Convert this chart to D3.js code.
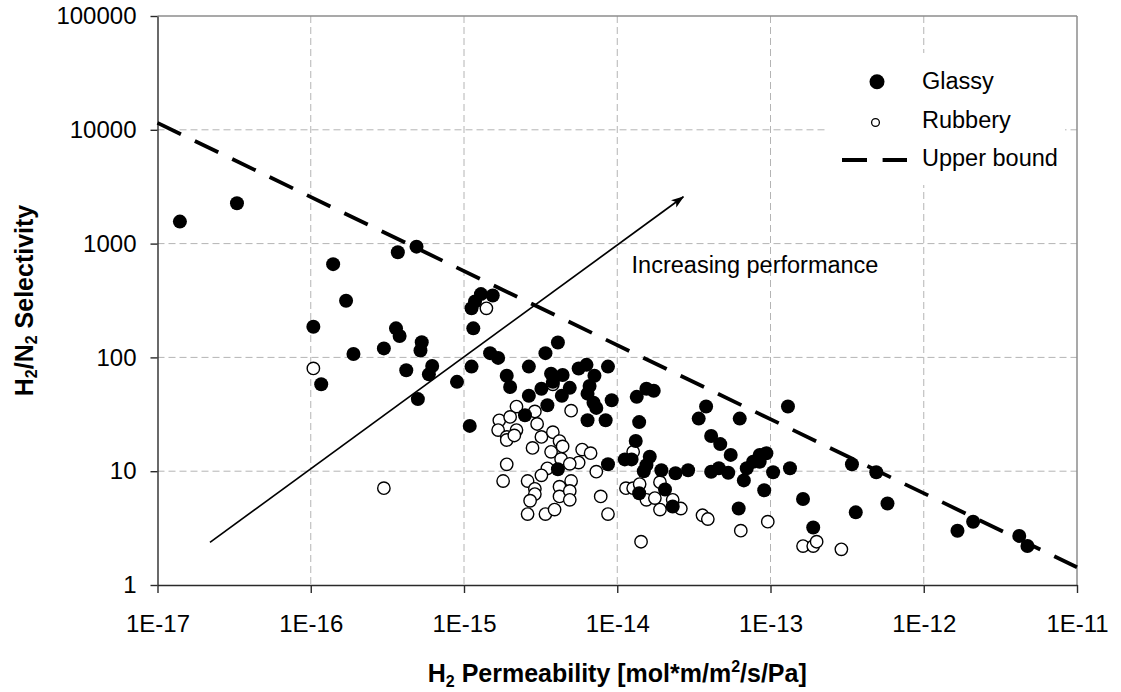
<!DOCTYPE html>
<html lang="en">
<head>
    <meta charset="UTF-8">
    <title>H2/N2 Selectivity vs H2 Permeability</title>
    <script src="https://d3js.org/d3.v7.min.js"></script>
    <style>
        body { margin: 0; background: #fff; }
        svg text { font-family: "Liberation Sans", Arial, sans-serif; fill: #000; }
        .grid line { stroke: #b4b4b4; stroke-width: 1; stroke-dasharray: 7,4; }
        .axis path, .axis line { stroke: #2a2a2a; stroke-width: 1.4; }
        .axis text { font-size: 24px; font-family: "Liberation Sans", Arial, sans-serif; }
        .frame { stroke: #8c8c8c; stroke-width: 1.5; }
        .title { font-size: 25px; font-weight: bold; }
        .legend text, .note { font-size: 23.5px; }
    </style>
</head>
<body>
<svg id="chart" width="1121" height="692"></svg>
<script>
    // [H2 permeability, H2/N2 selectivity]
    const glassy = [
        [1.4e-17, 1560], [3.3e-17, 2260], [1.4e-16, 660], [1.7e-16, 315], [1.04e-16, 186],
        [1.9e-16, 107], [1.17e-16, 58], [3.0e-16, 120], [3.7e-16, 840], [4.9e-16, 940],
        [3.6e-16, 180], [3.8e-16, 154], [5.3e-16, 136], [5.2e-16, 115], [4.2e-16, 77],
        [6.2e-16, 84], [5.9e-16, 71], [5.0e-16, 43], [9.0e-16, 61], [1.09e-15, 25],
        [1.12e-15, 83], [1.15e-15, 180], [1.12e-15, 270], [1.18e-15, 310], [1.29e-15, 360],
        [1.54e-15, 350], [1.48e-15, 109], [1.67e-15, 99], [1.9e-15, 69], [2.0e-15, 55],
        [2.65e-15, 83], [3.4e-15, 109], [4.1e-15, 135], [2.65e-15, 46], [2.5e-15, 31],
        [3.2e-15, 53], [3.7e-15, 72], [4.4e-15, 70], [4.9e-15, 54], [4.35e-15, 46],
        [3.5e-15, 38], [3.8e-15, 61], [5.6e-15, 80], [6.3e-15, 86], [7.1e-15, 69],
        [6.6e-15, 56], [6.4e-15, 48], [7.0e-15, 40], [7.3e-15, 36], [8.7e-15, 83],
        [9.2e-15, 42], [6.4e-15, 28], [8.4e-15, 28], [4.1e-15, 10.4], [8.7e-15, 11.5],
        [1.34e-14, 45], [1.55e-14, 53], [1.73e-14, 51], [1.39e-14, 27], [1.32e-14, 18.4],
        [1.12e-14, 12.7], [1.24e-14, 12.7], [1.63e-14, 13.4], [1.55e-14, 11.3], [1.49e-14, 10],
        [1.94e-14, 10.2], [2.4e-14, 9.6], [2.9e-14, 10.2], [4.1e-14, 9.9], [4.6e-14, 10.6],
        [5.3e-14, 9.7], [3.8e-14, 37], [3.4e-14, 29], [4.1e-14, 20.4], [4.7e-14, 17.3],
        [5.5e-14, 13.9], [1.39e-14, 6.4], [2.05e-14, 6.9], [2.3e-14, 4.9], [6.3e-14, 29],
        [1.3e-13, 37], [7.0e-14, 10.6], [7.7e-14, 12.1], [8.5e-14, 13.9], [9.4e-14, 14.4],
        [8.5e-14, 12.1], [6.7e-14, 8.3], [1.04e-13, 9.8], [1.34e-13, 10.6], [9.1e-14, 6.8],
        [6.2e-14, 4.7], [1.63e-13, 5.7], [1.9e-13, 3.2], [3.4e-13, 11.5], [4.9e-13, 9.8],
        [3.6e-13, 4.35], [5.8e-13, 5.2], [1.66e-12, 3.0], [2.1e-12, 3.6], [4.2e-12, 2.7],
        [4.75e-12, 2.2]
    ];

    const rubbery = [
        [1.04e-16, 80], [3.0e-16, 7.1], [1.4e-15, 270], [2.2e-15, 37], [1.7e-15, 28],
        [2.0e-15, 30], [1.67e-15, 23], [2.2e-15, 23], [1.9e-15, 20], [1.9e-15, 18.8],
        [2.13e-15, 20.6], [2.9e-15, 33.5], [3.0e-15, 26], [3.2e-15, 20], [2.8e-15, 16],
        [3.8e-15, 22], [4.2e-15, 18.4], [4.4e-15, 16.5], [3.7e-15, 14.8], [5.0e-15, 34],
        [5.9e-15, 15.5], [6.7e-15, 14.4], [5.6e-15, 11.9], [4.3e-15, 12.8], [4.9e-15, 11.6],
        [3.5e-15, 10.6], [1.9e-15, 11.5], [1.8e-15, 8.2], [2.6e-15, 8.2], [2.9e-15, 7.0],
        [2.9e-15, 6.3], [2.7e-15, 5.5], [3.2e-15, 9.2], [4.2e-15, 7.3], [4.2e-15, 6.0],
        [5.0e-15, 8.2], [4.9e-15, 6.7], [4.9e-15, 5.6], [2.6e-15, 4.2], [3.4e-15, 4.2],
        [3.9e-15, 4.6], [7.3e-15, 9.9], [7.8e-15, 6.0], [8.7e-15, 4.2], [1.27e-14, 14.8],
        [1.14e-14, 7.1], [1.27e-14, 7.1], [1.4e-14, 7.7], [1.55e-14, 5.6], [1.76e-14, 5.8],
        [1.9e-14, 8.0], [1.9e-14, 4.6], [2.3e-14, 5.6], [2.6e-14, 4.7], [1.43e-14, 2.4],
        [3.6e-14, 4.1], [3.9e-14, 3.8], [6.4e-14, 3.0], [9.6e-14, 3.6], [1.63e-13, 2.2],
        [1.9e-13, 2.2], [2.0e-13, 2.4], [2.9e-13, 2.06], [3.8e-15, 58]
    ];

    const upperBound = [[1e-17, 11500], [1e-11, 1.43]];
    const arrowLine = [[2.2e-17, 2.37], [2.7e-14, 2580]];
    const noteAt = [1.24e-14, 555];
    const noteText = "Increasing performance";

    const xTicks = [1e-17, 1e-16, 1e-15, 1e-14, 1e-13, 1e-12, 1e-11];
    const yTicks = [1, 10, 100, 1000, 10000, 100000];
    const legendLabels = ["Glassy", "Rubbery", "Upper bound"];

    const svg = d3.select("#chart");

    const x = d3.scaleLog().domain([1e-17, 1e-11]).range([157.5, 1077]);
    const y = d3.scaleLog().domain([1, 100000]).range([585, 16]);

    // dashed grid
    const grid = svg.append("g").attr("class", "grid");
    grid.selectAll(".gx").data(xTicks.slice(1, -1)).join("line")
        .attr("x1", d => x(d)).attr("x2", d => x(d))
        .attr("y1", y(100000)).attr("y2", y(1));
    grid.selectAll(".gy").data(yTicks.slice(1, -1)).join("line")
        .attr("x1", x(1e-17)).attr("x2", x(1e-11))
        .attr("y1", d => y(d)).attr("y2", d => y(d));

    // frame top/right
    svg.append("line").attr("class", "frame")
        .attr("x1", x(1e-17)).attr("x2", x(1e-11)).attr("y1", y(100000)).attr("y2", y(100000));
    svg.append("line").attr("class", "frame")
        .attr("x1", x(1e-11)).attr("x2", x(1e-11)).attr("y1", y(100000)).attr("y2", y(1));

    // white box behind the legend
    svg.append("rect")
        .attr("x", 827).attr("y", 53).attr("width", 238).attr("height", 132)
        .attr("fill", "#fff");

    // axes
    svg.append("g").attr("class", "axis")
        .attr("transform", `translate(0,${y(1)})`)
        .call(d3.axisBottom(x).tickValues(xTicks)
            .tickFormat(d => "1E" + Math.round(Math.log10(d)))
            .tickSizeInner(8).tickSizeOuter(0).tickPadding(22))
        .attr("font-size", null).attr("font-family", null);

    svg.append("g").attr("class", "axis")
        .attr("transform", `translate(${x(1e-17)},0)`)
        .call(d3.axisLeft(y).tickValues(yTicks).tickFormat(d3.format("d"))
            .tickSizeInner(7).tickSizeOuter(0).tickPadding(14))
        .attr("font-size", null).attr("font-family", null);

    // upper bound
    svg.append("path")
        .datum(upperBound)
        .attr("d", d3.line().x(d => x(d[0])).y(d => y(d[1])))
        .attr("fill", "none").attr("stroke", "#000")
        .attr("stroke-width", 3.8).attr("stroke-dasharray", "26,15.5");

    // arrow
    svg.append("defs").append("marker")
        .attr("id", "head").attr("markerUnits", "userSpaceOnUse")
        .attr("viewBox", "0 -5 13 10").attr("refX", 12).attr("refY", 0)
        .attr("markerWidth", 13).attr("markerHeight", 10).attr("orient", "auto")
        .append("path").attr("d", "M0,-4.5L13,0L0,4.5L3,0Z").attr("fill", "#000");

    svg.append("path")
        .datum(arrowLine)
        .attr("d", d3.line().x(d => x(d[0])).y(d => y(d[1])))
        .attr("fill", "none").attr("stroke", "#000").attr("stroke-width", 1.7)
        .attr("marker-end", "url(#head)");

    svg.append("text").attr("class", "note")
        .attr("x", x(noteAt[0])).attr("y", y(noteAt[1]))
        .text(noteText);

    // points
    svg.append("g").selectAll("circle").data(rubbery).join("circle")
        .attr("cx", d => x(d[0])).attr("cy", d => y(d[1])).attr("r", 6.2)
        .attr("fill", "#fff").attr("stroke", "#000").attr("stroke-width", 1.4);

    svg.append("g").selectAll("circle").data(glassy).join("circle")
        .attr("cx", d => x(d[0])).attr("cy", d => y(d[1])).attr("r", 7)
        .attr("fill", "#000");

    // legend
    const legend = svg.append("g").attr("class", "legend");
    legend.append("circle").attr("cx", 877).attr("cy", 81.7).attr("r", 7.5).attr("fill", "#000");
    legend.append("circle").attr("cx", 875.5).attr("cy", 122.5).attr("r", 3.9)
        .attr("fill", "#fff").attr("stroke", "#000").attr("stroke-width", 1.3);
    legend.append("line").attr("x1", 842).attr("x2", 907).attr("y1", 160).attr("y2", 160)
        .attr("stroke", "#000").attr("stroke-width", 3.8).attr("stroke-dasharray", "25,15.6");
    legend.selectAll("text").data(legendLabels).join("text")
        .attr("x", 922).attr("y", (d, i) => [89.3, 128.3, 166][i])
        .text(d => d);

    // axis titles
    const xt = svg.append("text").attr("class", "title")
        .attr("x", (x(1e-17) + x(1e-11)) / 2).attr("y", 681.5)
        .attr("text-anchor", "middle");
    xt.append("tspan").text("H");
    xt.append("tspan").attr("font-size", 16).attr("dy", 5).text("2");
    xt.append("tspan").attr("dy", -5).text(" Permeability [mol*m/m");
    xt.append("tspan").attr("font-size", 16).attr("dy", -10).text("2");
    xt.append("tspan").attr("dy", 10).text("/s/Pa]");

    const yt = svg.append("text").attr("class", "title")
        .attr("transform", `translate(32.5,${(y(1) + y(100000)) / 2}) rotate(-90)`)
        .attr("text-anchor", "middle");
    yt.append("tspan").text("H");
    yt.append("tspan").attr("font-size", 16).attr("dy", 4).text("2");
    yt.append("tspan").attr("dy", -4).text("/N");
    yt.append("tspan").attr("font-size", 16).attr("dy", 4).text("2");
    yt.append("tspan").attr("dy", -4).text(" Selectivity");
</script>
</body>
</html>
